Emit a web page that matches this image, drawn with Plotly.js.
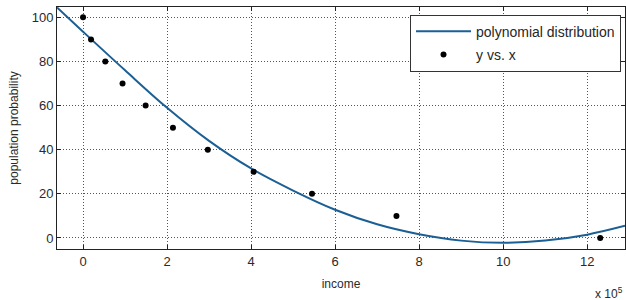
<!DOCTYPE html>
<html>
<head>
<meta charset="utf-8">
<script src="https://cdn.plot.ly/plotly-3.0.1.min.js"></script>
<style>html,body{margin:0;padding:0;background:#fff;}#chart{width:626px;height:300px;}</style>
</head>
<body>
<div id="chart"></div>
<script>
// fitted polynomial curve, x in units of 1e5
const curveX = [-0.62, 0, 1, 2, 3, 4, 5, 6, 7, 8, 9, 10, 11, 12, 12.9];
const curveY = [104.5, 93.5, 76, 59, 44, 31.5, 21.5, 12.8, 6.2, 1.7, -1.2, -2.2, -1.2, 1.5, 5.5];
// data points
const pointX = [0, 0.19, 0.53, 0.94, 1.49, 2.14, 2.97, 4.06, 5.45, 7.46, 12.31];
const pointY = [100, 90, 80, 70, 60, 50, 40, 30, 20, 10, 0];
const xTicks = [0, 2, 4, 6, 8, 10, 12];
const yTicks = [0, 20, 40, 60, 80, 100];

const traces = [
  {x: curveX, y: curveY, type: 'scatter', mode: 'lines', name: 'polynomial distribution',
   legendgroup: 'a', line: {color: '#1b5f94', width: 2, shape: 'spline'}},
  {x: pointX, y: pointY, type: 'scatter', mode: 'markers', name: 'y vs. x',
   legendgroup: 'b', marker: {color: '#000', size: 6}}
];
const font = {family: 'Liberation Sans, Arial, sans-serif', size: 13, color: '#2a2a2a'};
const axisCommon = {
  showline: true, mirror: 'ticks', linecolor: '#222', linewidth: 1,
  ticks: 'inside', ticklen: 4, tickcolor: '#222',
  showgrid: true, gridcolor: '#555', griddash: '1px,2px', gridwidth: 1,
  zeroline: false, tickfont: font
};
const layout = {
  width: 626, height: 300,
  margin: {l: 57, r: 1, t: 7, b: 51},
  paper_bgcolor: '#fff', plot_bgcolor: '#fff',
  font: font,
  showlegend: true,
  xaxis: Object.assign({}, axisCommon, {
    range: [-0.62, 12.9], tickvals: xTicks, ticktext: xTicks.map(String),
    title: {text: 'income', font: {family: font.family, size: 12, color: '#2a2a2a'}, standoff: 12}
  }),
  yaxis: Object.assign({}, axisCommon, {
    range: [-5, 104.7], tickvals: yTicks, ticktext: yTicks.map(String),
    title: {text: 'population probability', font: {family: font.family, size: 12, color: '#2a2a2a'}, standoff: 10}
  }),
  legend: {
    x: 0.993, xanchor: 'right', y: 0.968, yanchor: 'top',
    bgcolor: '#fff', bordercolor: '#333', borderwidth: 1,
    font: {family: 'Liberation Sans, Arial, sans-serif', size: 14, color: '#262626'},
    traceorder: 'grouped', tracegroupgap: 2, itemwidth: 55
  },
  annotations: [{
    xref: 'paper', yref: 'paper', x: 1.0, y: -0.18, xanchor: 'right', yanchor: 'middle',
    text: 'x 10<sup>5</sup>', showarrow: false, font: {family: font.family, size: 12, color: '#2a2a2a'}
  }]
};
Plotly.newPlot('chart', traces, layout, {displayModeBar: false, staticPlot: true});
</script>
</body>
</html>
